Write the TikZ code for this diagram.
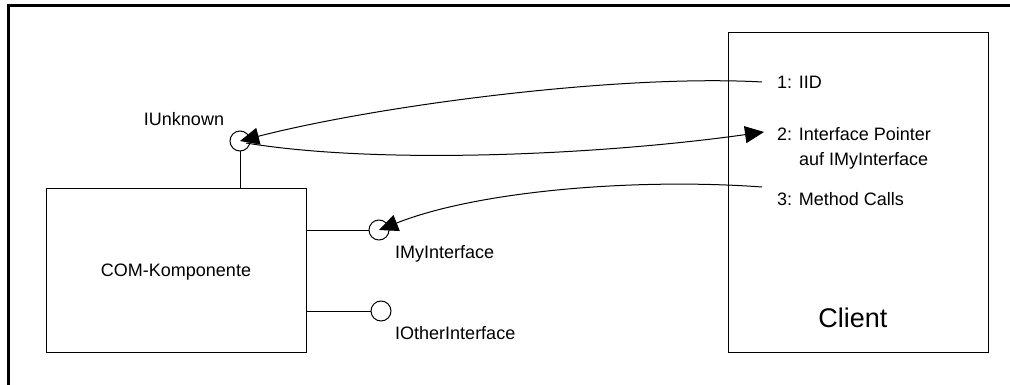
\documentclass[tikz,border=0pt]{standalone}
\usepackage{fontspec}
\setmainfont{Liberation Sans}
\usetikzlibrary{arrows.meta}
\begin{document}
\begin{tikzpicture}[x=1pt,y=-1pt,
  every node/.style={font=\fontsize{18}{21}\selectfont, inner sep=0pt},
  thin line/.style={draw=black, line width=1pt},
  lollipop/.style={circle, draw=black, line width=1pt, fill=white, minimum size=20pt, inner sep=0pt},
  box/.style={draw=black, line width=1pt, inner sep=0pt},
  call/.style={draw=black, line width=1pt, -{Triangle[length=19pt,width=17pt]}},
  lbl/.style={anchor=base west}]
  \useasboundingbox (0,0) rectangle (1010,385);
  \begin{scope}
    \clip (0,0) rectangle (1010,385);
    % outer frame (only top and left edges fall inside the page)
    \draw[line width=2.7pt] (8.6,5.7) rectangle (1030,400);
  \end{scope}

  % component and client boxes
  \node[box, minimum width=260pt, minimum height=163pt] (com) at (176,270.5) {};
  \node[anchor=base] (comlbl) at (176,276) {COM-Komponente};
  \node[box, minimum width=260pt, minimum height=319pt] (client) at (858,192.5) {};
  \node[anchor=base, font=\fontsize{27}{32}\selectfont] (clientlbl) at (853,327) {Client};

  % interface lollipops
  \node[lollipop] (iu) at (240,141) {};
  \node[lollipop] (imy) at (379,230) {};
  \node[lollipop] (iother) at (381,311) {};
  \draw[thin line] (iu.south) -- (iu.south |- com.north);
  \draw[thin line] (com.east |- imy) -- (imy.west);
  \draw[thin line] (com.east |- iother) -- (iother.west);

  \node[anchor=base] (iulbl) at (184,126) {IUnknown};
  \node[lbl] (imylbl) at (395,258) {IMyInterface};
  \node[lbl] (iotherlbl) at (395,339) {IOtherInterface};

  % client-side messages
  \node[lbl] (m1) at (777,89) {1: IID};
  \node[lbl] (m2) at (777,141) {2: Interface Pointer};
  \node[lbl] (m2b) at (799,166) {auf IMyInterface};
  \node[lbl] (m3) at (777,205) {3: Method Calls};

  \coordinate (s1) at (762,82);
  \coordinate (s2) at (246,143);
  \coordinate (e2) at (764,132);
  \coordinate (s3) at (762,187);

  \draw[call] (s1) .. controls (620,74) and (380,105) .. (iu.center);
  \draw[call] (s2) .. controls (380,165) and (600,155) .. (e2);
  \draw[call] (s3) .. controls (640,178) and (480,190) .. (imy.center);
\end{tikzpicture}
\end{document}
